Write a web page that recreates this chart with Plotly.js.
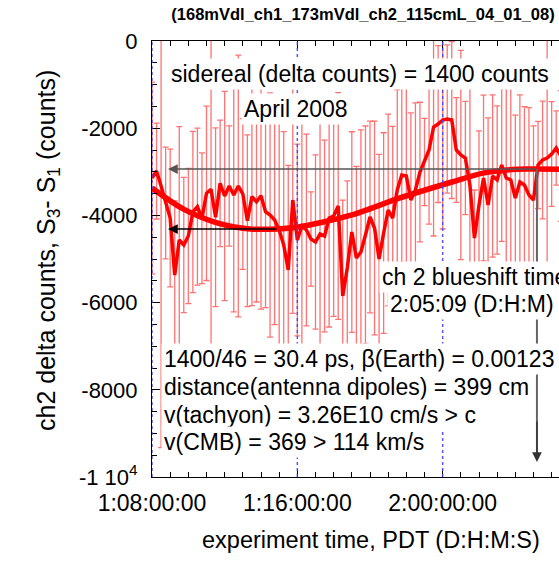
<!DOCTYPE html>
<html><head><meta charset="utf-8">
<script src="https://cdn.plot.ly/plotly-3.0.1.min.js"></script>
<style>html,body{margin:0;padding:0;overflow:hidden;background:#fff}#chart{width:620px;height:563px}</style>
</head><body><div id="chart"></div>
<script>
const titleText = '(168mVdl_ch1_173mVdl_ch2_115cmL_04_01_08)';
const xTickHours = [32, 40, 48, 56];
const xTickLabels = ['1:08:00:00', '1:16:00:00', '2:00:00:00', '2:08:00:00'];
const yTickValues = [0, -2000, -4000, -6000, -8000, -10000];
const yTickLabels = ['0', '-2000', '-4000', '-6000', '-8000', '-1 10<sup>4</sup>'];
const sampleStartHour = 32;
const sampleStepHours = 0.25;
const deltaCounts = [
 -3142,-2982,-3326,-3716,-4060,-5367,-4564,-4679,-4472,-3922,
 -3800,-4067,-3493,-3401,-4044,-3264,-3555,-3326,-3532,-3326,
 -3509,-4122,-3571,-3686,-3548,-3915,-3991,-4106,-4335,-4679,
 -5252,-3647,-4564,-4243,-4335,-4541,-4610,-4427,-4472,-4060,
 -4014,-3784,-5849,-5206,-4381,-4977,-4839,-4450,-4037,-4289,
 -5000,-4404,-3876,-4060,-3417,-3073,-3096,-3647,-3417,-3005,
 -2775,-2500,-1972,-1904,-1812,-1789,-1812,-2500,-2615,-2683,
 -3303,-4518,-3761,-3142,-3761,-3096,-3188,-2844,-3142,-3188,
 -3601,-3234,-3303,-3530,-3647,-2844,-2729,-2683,-2592,-2454,
 -2638,-2800,-3000,-2900];
const deltaErrors = [
 2200,1100,6000,1280,1580,1700,2600,1550,1550,1850,
 1800,1500,2000,5000,2050,1450,2400,1380,2680,3000,
 1730,1970,2500,2300,2600,2200,2800,2400,3000,2600,
 2400,2600,2200,3000,2200,1080,2000,2600,2200,2500,
 2300,2600,2200,2000,2300,2100,2800,2500,2200,2450,
 2400,2300,2200,2100,2300,2000,2200,2000,2000,1600,
 1000,1700,2500,1800,2500,1700,1800,1200,2400,1300,
 2400,1100,1700,1900,2000,1860,1700,1750,2150,2150,
 1900,2000,1800,2000,1700,1000,1350,3000,1200,850,
 1500,1800,1800,1800];
const fitHours = [32.0, 33.71, 35.58, 37.39, 38.93, 40.15, 41.25, 43.01, 45.65, 48.51, 50.22, 52.09, 53.19, 54.4, 55.5];
const fitCounts = [-3372, -3850, -4170, -4310, -4310, -4260, -4170, -3990, -3600, -3234, -3030, -2940, -2936, -2940, -2960];
const dayLineHours = [32, 40, 48, 56];
const peakHour = 53.19, peakCounts = -2936;
const troughHour = 38.93, troughCounts = -4312;

const sampleHours = deltaCounts.map((_, i) => sampleStartHour + i * sampleStepHours);

// pixel helpers (layout placement only)
const L = 152, T = 41, W = 436, H = 436;
const hx = px => 32 + (px - L) / W * 24;
const vy = py => -(py - T) / H * 10000;

const FONT = 'Liberation Sans, Arial, Helvetica, sans-serif';
const txt = {family: FONT, size: 23, color: '#000'};

const traces = [
  {x: sampleHours, y: deltaCounts, type: 'scatter', mode: 'markers',
   marker: {size: 1, opacity: 0}, hoverinfo: 'skip',
   error_y: {type: 'data', array: deltaErrors, visible: true,
             color: 'rgba(255,20,20,0.6)', thickness: 1.3, width: 3}},
  {x: sampleHours, y: deltaCounts, type: 'scatter', mode: 'lines',
   line: {color: '#ff0000', width: 3.5}},
  {x: fitHours, y: fitCounts, type: 'scatter', mode: 'lines',
   line: {color: '#ff0000', width: 5.5, shape: 'spline', smoothing: 0.8}}
];

const shapes = dayLineHours.map(h => ({type: 'line', xref: 'x', yref: 'paper', x0: h, x1: h, y0: 0, y1: 1,
  line: {color: 'rgba(70,70,255,0.9)', width: 1.5, dash: 'dot'}}));
shapes.push({type: 'line', xref: 'x', yref: 'y', x0: peakHour, x1: peakHour, y0: peakCounts, y1: vy(455),
  line: {color: '#666', width: 2}});

function label(text, leftPx, midPx, extra) {
  return Object.assign({text: text, x: hx(leftPx), y: vy(midPx), xref: 'x', yref: 'y',
    xanchor: 'left', yanchor: 'middle', showarrow: false, bgcolor: '#fff', borderpad: 2,
    font: txt, align: 'left'}, extra || {});
}

const annotations = [
  {x: hx(168), y: peakCounts, ax: peakHour, ay: peakCounts, axref: 'x', ayref: 'y', xref: 'x', yref: 'y',
   showarrow: true, arrowhead: 2, arrowsize: 1.3, arrowwidth: 1.5, arrowcolor: '#555', text: ''},
  {x: hx(168), y: troughCounts, ax: troughHour, ay: troughCounts, axref: 'x', ayref: 'y', xref: 'x', yref: 'y',
   showarrow: true, arrowhead: 2, arrowsize: 1.3, arrowwidth: 1.5, arrowcolor: '#000', text: ''},
  {x: peakHour, y: vy(462), ax: peakHour, ay: vy(420), axref: 'x', ayref: 'y', xref: 'x', yref: 'y',
   showarrow: true, arrowhead: 2, arrowsize: 1.3, arrowwidth: 1.5, arrowcolor: '#333', text: ''},
  label('sidereal (delta counts) = 1400 counts', 168, 74),
  label('April 2008', 241, 109),
  label('ch 2 blueshift time', 379, 277),
  label('2:05:09 (D:H:M)', 387, 304),
  label('1400/46 = 30.4 ps, \u03b2(Earth) = 0.00123', 161, 359),
  label('distance(antenna dipoles) = 399 cm', 161, 387),
  label('v(tachyon) = 3.26E10 cm/s > c', 161, 415),
  label('v(CMB) = 369 > 114 km/s', 161, 442),
  {text: 'ch2 delta counts, S<sub>3</sub>- S<sub>1</sub> (counts)', textangle: -90,
   xref: 'paper', yref: 'paper', x: (48 - L) / W, y: 1 - (251 - T) / H,
   xanchor: 'center', yanchor: 'middle', showarrow: false, font: {family: FONT, size: 25, color: '#000'}},
  {text: 'experiment time, PDT (D:H:M:S)', xref: 'paper', yref: 'paper',
   x: (371 - L) / W, y: -(540 - T - H) / H, xanchor: 'center', yanchor: 'middle',
   showarrow: false, font: {family: FONT, size: 23.5, color: '#000'}}
];

const axisCommon = {
  showgrid: false, zeroline: false, showline: true, linecolor: '#000', linewidth: 1,
  mirror: 'allticks', ticks: 'inside', ticklen: 8, tickwidth: 1, tickcolor: '#000',
  tickmode: 'array', fixedrange: true
};

const layout = {
  width: 620, height: 563,
  margin: {l: L, r: 620 - L - W, t: T, b: 563 - T - H},
  paper_bgcolor: '#fff', plot_bgcolor: '#fff', showlegend: false,
  title: {text: '<b>' + titleText + '</b>', font: {family: FONT, size: 16.5, color: '#000'},
          xref: 'container', yref: 'container', x: 363 / 620, y: 1 - 14 / 563, xanchor: 'center', yanchor: 'middle'},
  xaxis: Object.assign({}, axisCommon, {range: [32, 56], tickvals: xTickHours, ticktext: xTickLabels,
    tickfont: {family: FONT, size: 23, color: '#000'}, ticklabelstandoff: 5,
    minor: {tickmode: 'linear', tick0: 32, dtick: 1, ticks: 'inside', ticklen: 5, tickcolor: '#000'}}),
  yaxis: Object.assign({}, axisCommon, {range: [-10000, 0], tickvals: yTickValues, ticktext: yTickLabels,
    tickfont: {family: FONT, size: 22, color: '#000'}, ticklabelstandoff: 9,
    minor: {tickmode: 'linear', tick0: 0, dtick: 500, ticks: 'inside', ticklen: 5, tickcolor: '#000'}}),
  shapes: shapes,
  annotations: annotations
};

Plotly.newPlot('chart', traces, layout, {displayModeBar: false, staticPlot: true});
</script></body></html>
